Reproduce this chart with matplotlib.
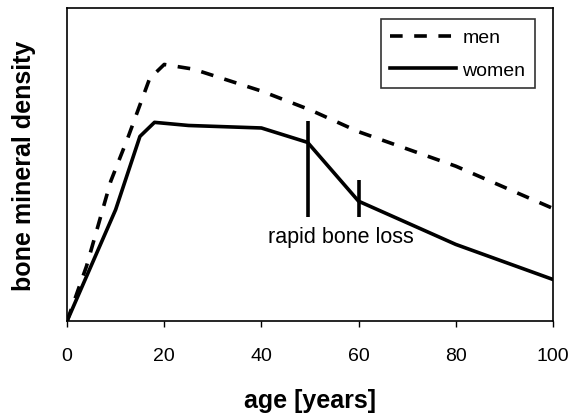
import matplotlib
matplotlib.use("Agg")
import matplotlib.pyplot as plt

plt.rcParams['font.family'] = ['Liberation Sans', 'DejaVu Sans']

# age in years, bone mineral density (arbitrary units)
age_men = [0, 4, 9, 12.5, 17, 20, 26, 40, 50, 60, 80, 100]
bmd_men = [0, 17.5, 44.7, 58.5, 77.5, 82, 80.5, 73.5, 67.5, 60.5, 49.5, 36]

age_women = [0, 10, 15, 18, 25, 40, 49.5, 60, 80, 100]
bmd_women = [0, 35.6, 59, 63.5, 62.5, 61.7, 57.1, 38.3, 24.5, 13.3]

# rapid bone loss markers
mark_age = [49.5, 60]
mark_top = [63.8, 45]
mark_bottom = [33.3, 33.3]

fig = plt.figure(figsize=(5.73, 4.14), dpi=100)
ax = fig.add_axes([0.117, 0.222, 0.848, 0.756])

ax.plot(age_men, bmd_men, color='black', lw=2.6, ls=(0, (3.5, 3.2)), label='men')
ax.plot(age_women, bmd_women, color='black', lw=2.6, label='women')

ax.vlines(mark_age, mark_bottom, mark_top, colors='black', lw=2.6)
ax.text(56.4, 27, 'rapid bone loss', ha='center', va='center', fontsize=15.5)

ax.set_xlim(0, 100)
ax.set_ylim(0, 100)
ax.set_xticks([0, 20, 40, 60, 80, 100])
ax.set_yticks([])
ax.tick_params(axis='x', direction='out', length=4, width=1, labelsize=14, pad=15)
for s in ax.spines.values():
    s.set_linewidth(1.2)

ax.set_xlabel('age [years]', fontsize=18, fontweight='bold', labelpad=17)
ax.set_ylabel('bone mineral density', fontsize=18, fontweight='bold', labelpad=22)

leg = ax.legend(loc='upper right', bbox_to_anchor=(0.963, 0.965), fontsize=14,
                frameon=True, fancybox=False, edgecolor='black', handlelength=3.4,
                handletextpad=0.3, borderpad=0.5, labelspacing=0.75, borderaxespad=0)
leg.get_frame().set_linewidth(1.2)

fig.savefig('out.png', dpi=100)
